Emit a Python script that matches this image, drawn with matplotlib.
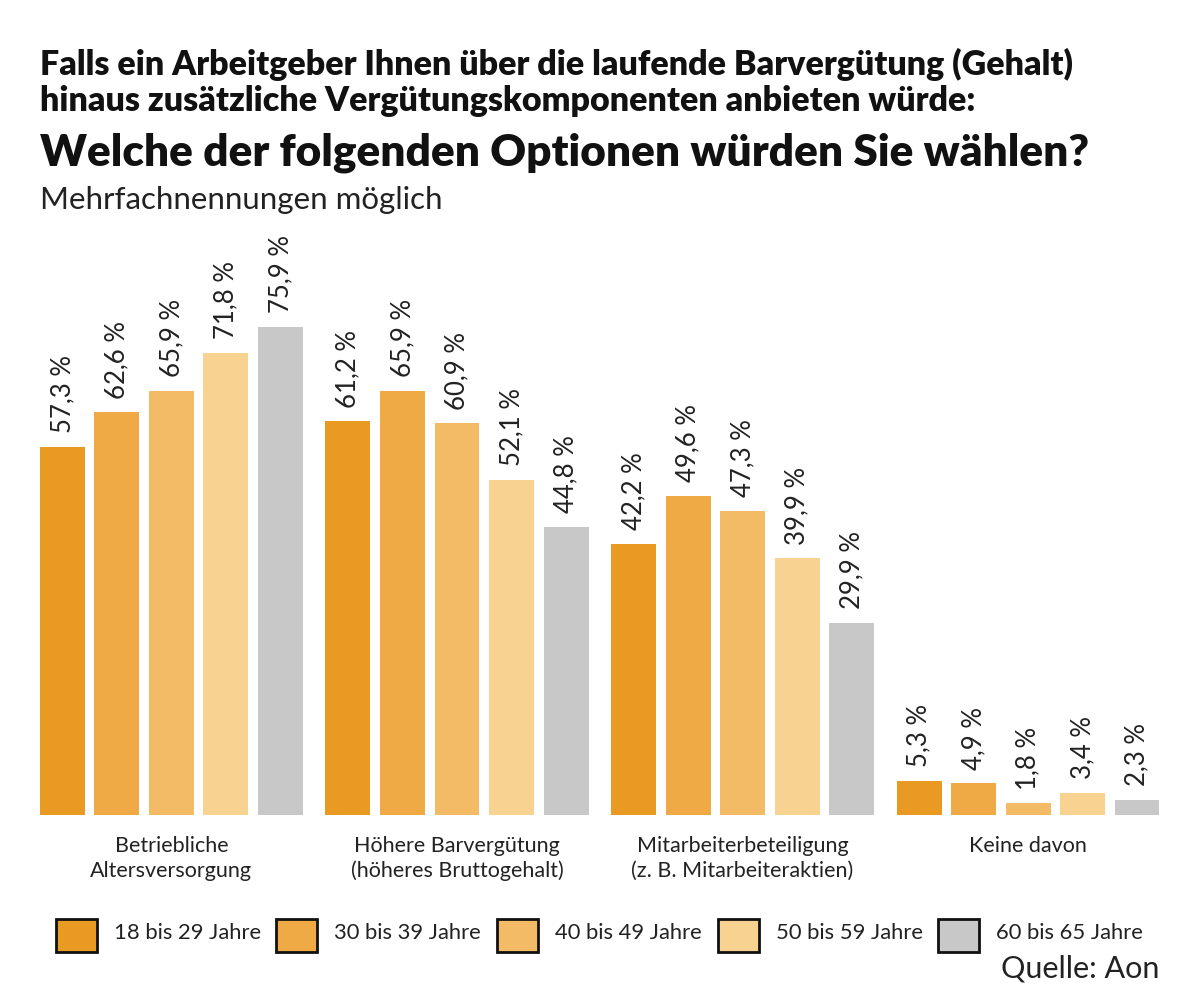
import matplotlib
matplotlib.use("Agg")
import matplotlib.pyplot as plt
from matplotlib.patches import Rectangle
import numpy as np

categories = ["Betriebliche\nAltersversorgung",
              "Höhere Barvergütung\n(höheres Bruttogehalt)",
              "Mitarbeiterbeteiligung\n(z. B. Mitarbeiteraktien)",
              "Keine davon"]
series_names = ["18 bis 29 Jahre", "30 bis 39 Jahre", "40 bis 49 Jahre",
                "50 bis 59 Jahre", "60 bis 65 Jahre"]
v18_29 = [57.3, 61.2, 42.2, 5.3]
v30_39 = [62.6, 65.9, 49.6, 4.9]
v40_49 = [65.9, 60.9, 47.3, 1.8]
v50_59 = [71.8, 52.1, 39.9, 3.4]
v60_65 = [75.9, 44.8, 29.9, 2.3]
series = [v18_29, v30_39, v40_49, v50_59, v60_65]
colors = ["#E89A22", "#EFAA45", "#F3BB65", "#F7D291", "#C8C8C8"]

plt.rcParams['font.family'] = ['Lato', 'DejaVu Sans']

fig = plt.figure(figsize=(12, 10.01), dpi=100)
ax = fig.add_axes([40/1200, 1-815/1001, (1159-40)/1200, (815-300.6)/1001])

x = np.arange(len(categories))
pitch = 54.6/286
width = 45/286
for i, (vals, col) in enumerate(zip(series, colors)):
    xs = x + (i-2)*pitch
    ax.bar(xs, vals, width=width, color=col, edgecolor='none')
    for xx, v in zip(xs, vals):
        ax.annotate(f"{v:.1f} %".replace(".", ","), (xx, v), xytext=(0, 10),
                    textcoords='offset points', rotation=90, ha='center',
                    va='bottom', fontsize=18.5, color='#222222')

ax.set_xlim(-0.46, 3.458)
ax.set_ylim(0, 80)
for s in ax.spines.values():
    s.set_visible(False)
ax.set_yticks([])
ax.set_xticks(x)
ax.set_xticklabels(categories, fontsize=15.5, color='#222222', linespacing=1.3)
ax.tick_params(axis='x', length=0, pad=15)

# Titles
fig.text(40/1200, 1-64/1001, "Falls ein Arbeitgeber Ihnen über die laufende Barvergütung (Gehalt)",
         fontsize=24.5, fontweight='heavy', va='center', ha='left', color='#111111')
fig.text(40/1200, 1-101/1001, "hinaus zusätzliche Vergütungskomponenten anbieten würde:",
         fontsize=24.5, fontweight='heavy', va='center', ha='left', color='#111111')
fig.text(40/1200, 1-153/1001, "Welche der folgenden Optionen würden Sie wählen?",
         fontsize=31.8, fontweight='heavy', va='center', ha='left', color='#111111')
fig.text(40/1200, 1-200/1001, "Mehrfachnennungen möglich",
         fontsize=22.5, va='center', ha='left', color='#222222')

# Legend
box_lefts = [56, 276, 497, 718, 938]
for bl, name, col in zip(box_lefts, series_names, colors):
    fig.patches.append(Rectangle((bl/1200, 1-952/1001), 41/1200, 33/1001,
                                 transform=fig.transFigure, facecolor=col,
                                 edgecolor='#111111', linewidth=2))
    fig.text((bl+58)/1200, 1-933/1001, name, fontsize=15.8, va='center',
             ha='left', color='#222222')

fig.text(1159/1200, 1-969/1001, "Quelle: Aon", fontsize=22, va='center',
         ha='right', color='#222222')

fig.savefig("out.png", dpi=100, facecolor='white')
